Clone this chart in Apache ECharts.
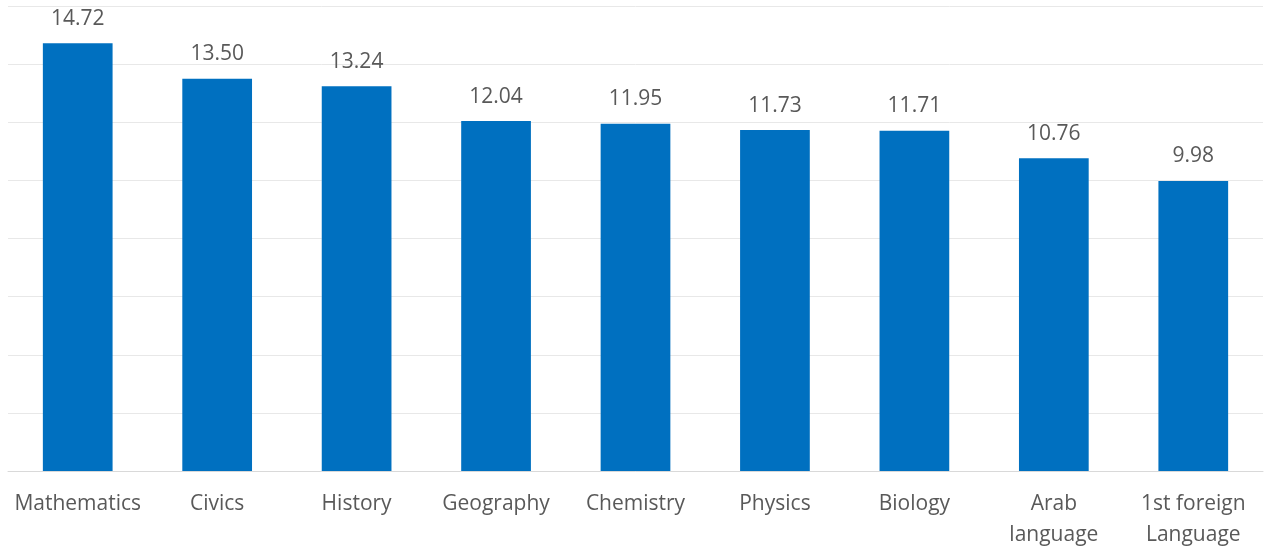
<!DOCTYPE html>
<html>
<head>
<meta charset="utf-8">
<script src="https://cdn.jsdelivr.net/npm/echarts@6/dist/echarts.min.js"></script>
<style>
  html, body { margin: 0; padding: 0; background: #ffffff; }
  #chart { width: 1268px; height: 549px; }
</style>
</head>
<body>
<div id="chart"></div>
<script>
// Average score per subject
const subjects = ['Mathematics', 'Civics', 'History', 'Geography', 'Chemistry', 'Physics', 'Biology', 'Arab\nlanguage', '1st foreign\nLanguage'];
const scores = [14.72, 13.50, 13.24, 12.04, 11.95, 11.73, 11.71, 10.76, 9.98];

const chart = echarts.init(document.getElementById('chart'), null, { renderer: 'canvas' });
chart.setOption({
  animation: false,
  backgroundColor: '#ffffff',
  textStyle: { fontFamily: '"Open Sans", Lato, sans-serif' },
  grid: { left: 8, right: 5, top: 6, bottom: 78, containLabel: false, outerBoundsMode: 'none' },
  xAxis: {
    type: 'category',
    data: subjects,
    axisLine: { show: true, lineStyle: { color: '#d9d9d9', width: 1 } },
    axisTick: { show: false },
    axisLabel: {
      color: '#595959',
      fontSize: 21,
      lineHeight: 31,
      margin: 18,
      interval: 0
    }
  },
  yAxis: {
    type: 'value',
    min: 0,
    max: 16,
    interval: 2,
    axisLabel: { show: false },
    axisLine: { show: false },
    axisTick: { show: false },
    splitLine: { lineStyle: { color: '#e8e8e8', width: 1 } }
  },
  series: [{
    type: 'bar',
    data: scores,
    barWidth: '50%',
    itemStyle: { color: '#0070C0' },
    label: {
      show: true,
      position: 'top',
      distance: 14,
      color: '#595959',
      fontSize: 21,
      formatter: p => p.value.toFixed(2)
    }
  }]
});
</script>
</body>
</html>
